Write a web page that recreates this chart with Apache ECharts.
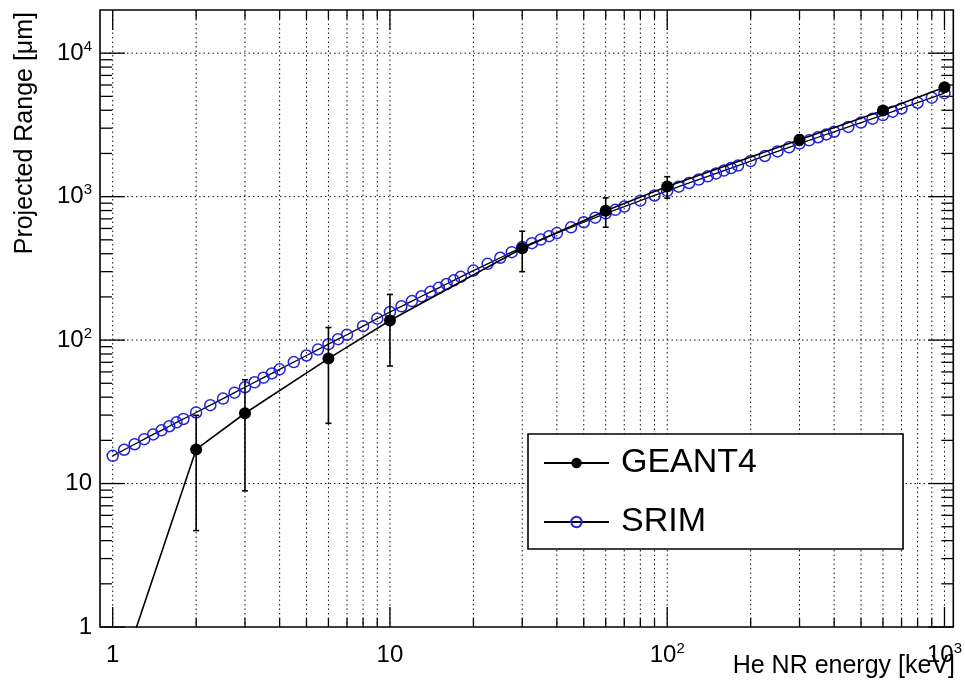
<!DOCTYPE html>
<html><head><meta charset="utf-8">
<script src="https://cdn.jsdelivr.net/npm/echarts@6/dist/echarts.min.js"></script>
<style>html,body{margin:0;padding:0;background:#fff}#c{width:965px;height:681px}</style>
</head><body><div id="c"></div>
<script>
// ---- data ----
const srimEnergy = [1,1.1,1.2,1.3,1.4,1.5,1.6,1.7,1.8,2,2.25,2.5,2.75,3,3.25,3.5,3.75,4,4.5,5,5.5,6,6.5,7,8,9,
  10,11,12,13,14,15,16,17,18,20,22.5,25,27.5,30,32.5,35,37.5,40,45,50,55,60,65,70,80,90,
  100,110,120,130,140,150,160,170,180,200,225,250,275,300,325,350,375,400,450,500,550,600,650,700,800,900,1000];
const srimRange = [15.6,17.2,18.8,20.4,22.0,23.5,25.1,26.7,28.2,31.3,35.2,39.1,43.0,46.9,50.8,54.7,58.6,62.5,70.3,78.1,85.9,93.7,101.5,109,125,141,
  157,172,187,202,217,231.5,246,261,276,305,340,375,410,445,474,502,530,557,611,663,714,764,809,852,937,1019,
  1098,1173,1245,1316,1385,1452,1519,1583,1647,1771,1921,2066,2207,2343,2470,2594,2715,2833,3062,3282,3496,3702,3912,4117,4515,4897,5267];
const g4Energy = [1,2,3,6,10,30,60,100,300,600,1000];
const g4Range  = [0.32,17.3,30.9,74.3,137,437,796,1177,2489,3985,5780];
const g4Err    = [0.1,12.6,22,48,71,137,184,200,200,250,300];
const xLabelVals = [1,10,100,1000];
const xLabelTexts = ['{b|1}','{b|10}','{b|10}{s|2}','{b|10}{s|3}'];
const yLabelVals = [1,10,100,1000,10000];
const yLabelTexts = ['{b|1}','{b|10}','{b|10}{s|2}','{b|10}{s|3}','{b|10}{s|4}'];
const xMin = 0.9, xMax = 1076, yMin = 1, yMax = 20000;

// tick positions (1..9 x 10^k)
const xTickVals = [], yTickVals = [];
for (let e = 0; e <= 3; e++) for (let m = 1; m <= 9; m++) { const v = m * Math.pow(10, e); if (v <= 1000) xTickVals.push(v); }
for (let e = 0; e <= 4; e++) for (let m = 1; m <= 9; m++) { const v = m * Math.pow(10, e); if (v < yMax) yTickVals.push(v); }

const FONT = 'Liberation Sans, Arial, Helvetica, sans-serif';
const isDecade = v => Math.abs(Math.log10(v) - Math.round(Math.log10(v))) < 1e-9;
const dotted = {stroke: '#111', lineWidth: 1, lineDash: [1.5, 3]};
const solid = {stroke: '#000', lineWidth: 1.3};

function labelFmt(vals, texts) {
  return function (v) {
    for (let i = 0; i < vals.length; i++) if (Math.abs(Math.log10(v) - Math.log10(vals[i])) < 1e-6) return texts[i];
    return '';
  };
}
const rich = {
  b: {fontSize: 24, fontFamily: FONT, color: '#000', lineHeight: 28, verticalAlign: 'middle'},
  s: {fontSize: 15, fontFamily: FONT, color: '#000', lineHeight: 15, verticalAlign: 'top'}
};

const chart = echarts.init(document.getElementById('c'), null, {renderer: 'canvas'});
chart.setOption({
  animation: false,
  backgroundColor: '#fff',
  grid: {left: 100, right: 10, top: 10, bottom: 54, show: true, borderColor: '#000', borderWidth: 1.6, backgroundColor: 'transparent'},
  xAxis: {
    type: 'log', logBase: 10, min: xMin, max: xMax,
    axisLine: {show: false}, axisTick: {show: false}, splitLine: {show: false},
    axisLabel: {formatter: labelFmt(xLabelVals, xLabelTexts), rich: rich, margin: 14, showMinLabel: false, showMaxLabel: false}
  },
  yAxis: {
    type: 'log', logBase: 10, min: yMin, max: yMax,
    axisLine: {show: false}, axisTick: {show: false}, splitLine: {show: false},
    axisLabel: {formatter: labelFmt(yLabelVals, yLabelTexts), rich: rich, margin: 8, showMinLabel: true, showMaxLabel: false}
  },
  legend: {
    orient: 'vertical', left: 528, top: 434,
    data: ['GEANT4', 'SRIM'],
    itemWidth: 65, itemHeight: 13, itemGap: 23,
    padding: [11, 146, 9, 15],
    backgroundColor: '#fff', borderColor: '#000', borderWidth: 1.6, borderRadius: 0,
    selectedMode: false,
    textStyle: {fontSize: 34, fontFamily: FONT, color: '#000', lineHeight: 36, padding: [0, 0, 0, 7]},
    z: 10
  },
  graphic: [
    {type: 'text', x: 25, y: 12, rotation: Math.PI / 2,
     style: {text: 'Projected Range [μm]', fontSize: 25, fontFamily: FONT, fill: '#000', align: 'right', verticalAlign: 'middle'}},
    {type: 'text', x: 955, y: 666,
     style: {text: 'He NR energy [keV]', fontSize: 25, fontFamily: FONT, fill: '#000', align: 'right', verticalAlign: 'middle'}}
  ],
  series: [
    {
      name: 'xgrid', type: 'custom', silent: true, z: 1,
      data: xTickVals.map(v => [v, 1]), encode: {x: 0, y: 1},
      renderItem: function (params, api) {
        const cs = params.coordSys;
        const v = api.value(0);
        const px = api.coord([v, 1])[0];
        const L = isDecade(v) ? 20 : 9;
        const bottom = cs.y + cs.height, top = cs.y;
        const ch = [];
        if (px > cs.x + 1 && px < cs.x + cs.width - 1)
          ch.push({type: 'line', shape: {x1: px, y1: top, x2: px, y2: bottom}, style: dotted});
        ch.push({type: 'line', shape: {x1: px, y1: bottom, x2: px, y2: bottom - L}, style: solid});
        ch.push({type: 'line', shape: {x1: px, y1: top, x2: px, y2: top + L}, style: solid});
        return {type: 'group', children: ch};
      }
    },
    {
      name: 'ygrid', type: 'custom', silent: true, z: 1,
      data: yTickVals.map(v => [1, v]), encode: {x: 0, y: 1},
      renderItem: function (params, api) {
        const cs = params.coordSys;
        const v = api.value(1);
        const py = api.coord([1, v])[1];
        const major = isDecade(v);
        const L = major ? 25 : 12;
        const left = cs.x, right = cs.x + cs.width;
        const ch = [];
        if (major && py > cs.y + 1 && py < cs.y + cs.height - 1)
          ch.push({type: 'line', shape: {x1: left, y1: py, x2: right, y2: py}, style: dotted});
        ch.push({type: 'line', shape: {x1: left, y1: py, x2: left + L, y2: py}, style: solid});
        ch.push({type: 'line', shape: {x1: right, y1: py, x2: right - L, y2: py}, style: solid});
        return {type: 'group', children: ch};
      }
    },
    {
      name: 'SRIM', type: 'line', z: 3, clip: true,
      data: srimEnergy.map((x, i) => [x, srimRange[i]]),
      symbol: 'circle', symbolSize: 11,
      itemStyle: {color: 'rgba(0,0,0,0)', borderColor: '#2222dd', borderWidth: 1.5},
      lineStyle: {color: '#000', width: 1.3}
    },
    {
      name: 'g4err', type: 'custom', z: 4, clip: true, silent: true,
      data: g4Energy.map((x, i) => [x, g4Range[i], g4Err[i]]),
      encode: {x: 0, y: 1},
      renderItem: function (params, api) {
        const x = api.value(0), y = api.value(1), e = api.value(2);
        const lo = api.coord([x, Math.max(y - e, 1e-3)]);
        const hi = api.coord([x, y + e]);
        const st = {stroke: '#000', lineWidth: 1.6};
        return {type: 'group', children: [
          {type: 'line', shape: {x1: lo[0], y1: lo[1], x2: hi[0], y2: hi[1]}, style: st},
          {type: 'line', shape: {x1: lo[0] - 3, y1: lo[1], x2: lo[0] + 3, y2: lo[1]}, style: st},
          {type: 'line', shape: {x1: hi[0] - 3, y1: hi[1], x2: hi[0] + 3, y2: hi[1]}, style: st}
        ]};
      }
    },
    {
      name: 'GEANT4', type: 'line', z: 5, clip: true,
      data: g4Energy.map((x, i) => [x, g4Range[i]]),
      symbol: 'circle', symbolSize: 12,
      itemStyle: {color: '#000'},
      lineStyle: {color: '#000', width: 1.6}
    }
  ]
});
</script></body></html>
